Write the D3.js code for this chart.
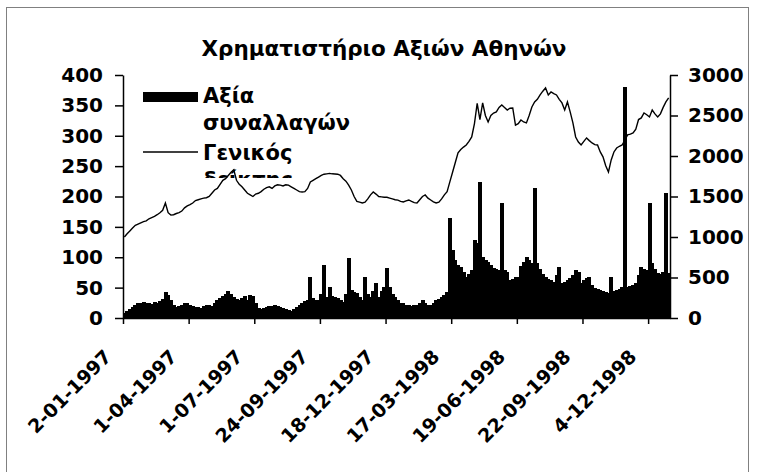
<!DOCTYPE html>
<html><head><meta charset="utf-8">
<script src="https://cdn.jsdelivr.net/npm/d3@7"></script>
<style>
body{margin:0;background:#fff}
svg{display:block}
text{font-family:"DejaVu Sans",sans-serif;font-weight:bold;fill:#000}
</style>
</head><body><svg id="c" width="757" height="472"></svg>
<script>
const title = "Χρηματιστήριο Αξιών Αθηνών";
const seriesNames = ["Αξία", "συναλλαγών", "Γενικός", "δείκτης"];
const tickLabels = ["2-01-1997","1-04-1997","1-07-1997","24-09-1997","18-12-1997","17-03-1998","19-06-1998","22-09-1998","4-12-1998"];
const labelEvery = 24;
const leftTicks = [0,50,100,150,200,250,300,350,400];
const rightTicks = [0,500,1000,1500,2000,2500,3000];

// Αξία συναλλαγών (left axis)
const volume = [
  8,12,15,18,22,24,25,26,24,25,23,26,25,28,32,42,38,30,22,18,20,22,24,25,
  22,20,18,18,17,19,21,22,20,25,30,33,36,40,44,40,35,32,30,33,36,30,38,36,
  24,16,15,17,18,19,20,21,20,18,16,15,13,12,14,18,22,25,28,30,68,33,30,30,
  40,87,35,51,36,34,33,30,26,40,99,46,42,41,35,30,68,40,35,45,58,35,45,51,
  82,51,40,35,30,25,24,22,21,20,22,21,24,30,24,21,22,25,30,32,35,38,43,165,
  112,95,88,84,75,68,72,79,128,123,224,100,95,92,88,82,80,79,189,79,75,63,65,68,
  68,85,92,100,95,90,214,90,80,72,68,65,63,60,70,84,58,60,62,66,70,79,75,58,
  62,66,68,55,49,48,46,44,42,41,68,45,46,48,51,380,51,52,55,58,70,84,80,79,
  189,90,80,74,72,76,205,74
];
// Γενικός δείκτης (right axis)
const generalIndex = [
  1000,1040,1075,1110,1145,1160,1175,1190,1200,1225,1240,1255,1275,1300,1330,1420,1300,1270,1275,1290,1300,1320,1360,1385,
  1400,1420,1450,1460,1470,1480,1485,1500,1540,1580,1600,1650,1700,1720,1760,1800,1830,1700,1650,1620,1580,1540,1520,1500,
  1530,1540,1560,1590,1610,1620,1600,1630,1645,1640,1630,1645,1640,1620,1600,1580,1560,1555,1560,1600,1680,1700,1720,1740,
  1760,1775,1780,1785,1780,1778,1775,1760,1720,1690,1640,1580,1500,1440,1430,1420,1430,1470,1520,1555,1530,1500,1495,1490,
  1490,1480,1470,1460,1455,1440,1432,1445,1457,1440,1425,1420,1460,1500,1519,1480,1457,1435,1420,1430,1470,1520,1560,1680,
  1800,1920,2040,2080,2110,2136,2180,2235,2400,2650,2450,2655,2500,2420,2500,2530,2544,2600,2630,2600,2568,2590,2593,2380,
  2400,2445,2420,2408,2500,2606,2667,2700,2754,2800,2840,2754,2791,2770,2754,2700,2655,2568,2667,2544,2408,2235,2173,2136,
  2180,2223,2190,2161,2140,2136,2050,1990,1880,1803,1951,2050,2099,2120,2136,2198,2260,2270,2285,2330,2450,2470,2532,2510,
  2482,2568,2520,2482,2520,2600,2667,2717
];

const svg = d3.select("#c");
const m = {l:123, r:670, t:75, b:318};

svg.append("rect").attr("x",6.5).attr("y",7.5).attr("width",742).attr("height",520)
  .attr("fill","#fff").attr("stroke","#808080");

svg.append("text").attr("x",384).attr("y",56).attr("text-anchor","middle")
  .style("font-size","21.5px").text(title);

const cats = d3.range(volume.length);
const x = d3.scaleBand().domain(cats).range([m.l,m.r]).padding(0);
const xb = d3.scaleLinear().domain([0,cats.length]).range([m.l,m.r]);
const yL = d3.scaleLinear().domain([0,400]).range([m.b,m.t]);
const yR = d3.scaleLinear().domain([0,3000]).range([m.b,m.t]);

// bars
svg.append("g").attr("shape-rendering","crispEdges").selectAll("rect").data(volume).join("rect")
  .attr("x",(d,i)=>Math.floor(x(i))).attr("width",Math.ceil(x.bandwidth())+1)
  .attr("y",d=>yL(d)).attr("height",d=>yL(0)-yL(d)).attr("fill","#000");

// line
svg.append("path").datum(generalIndex)
  .attr("d", d3.line().x((d,i)=>x(i)+x.bandwidth()/2).y(d=>yR(d)))
  .attr("fill","none").attr("stroke","#000").attr("stroke-width",1.4);

// axes
const gl = svg.append("g").attr("transform",`translate(${m.l},0)`)
  .call(d3.axisLeft(yL).tickValues(leftTicks).tickSize(8).tickSizeOuter(0).tickPadding(12).tickFormat(d3.format("d")));
const gr = svg.append("g").attr("transform",`translate(${m.r},0)`)
  .call(d3.axisRight(yR).tickValues(rightTicks).tickSize(8).tickSizeOuter(0).tickPadding(10).tickFormat(d3.format("d")));
const gb = svg.append("g").attr("transform",`translate(0,${m.b})`)
  .call(d3.axisBottom(xb).tickValues(d3.range(0, cats.length, labelEvery)).tickSize(6).tickSizeOuter(0)
    .tickFormat((d,i)=>tickLabels[i]));
[gl,gr,gb].forEach(g=>{
  g.selectAll("path.domain").attr("stroke","#000").attr("stroke-width",1.5);
  g.selectAll(".tick line").attr("stroke","#000").attr("stroke-width",1.5);
  g.selectAll("text").attr("font-family",null).attr("font-size",null).style("font-size","20px");
});
gb.selectAll(".tick text").attr("x",0).attr("y",0).attr("dy",0)
  .attr("text-anchor","end").attr("transform","translate(-11,40) rotate(-45)")
  .style("font-size","19px");

// legend
const lg = svg.append("g");
lg.append("clipPath").attr("id","lgclip").append("rect").attr("x",130).attr("y",80).attr("width",260).attr("height",98);
const lgi = lg.append("g").attr("clip-path","url(#lgclip)");
lgi.append("rect").attr("x",143).attr("y",92).attr("width",55).attr("height",10).attr("fill","#000");
lgi.append("line").attr("x1",143).attr("x2",198).attr("y1",152).attr("y2",152).attr("stroke","#000").attr("stroke-width",1.4);
const lgText = [[seriesNames[0],103],[seriesNames[1],130],[seriesNames[2],160],[seriesNames[3],187]];
lgi.selectAll("text.lt").data(lgText).join("text").attr("class","lt")
  .attr("x",203).attr("y",d=>d[1]).style("font-size","21px").text(d=>d[0]);
</script>
</body></html>
